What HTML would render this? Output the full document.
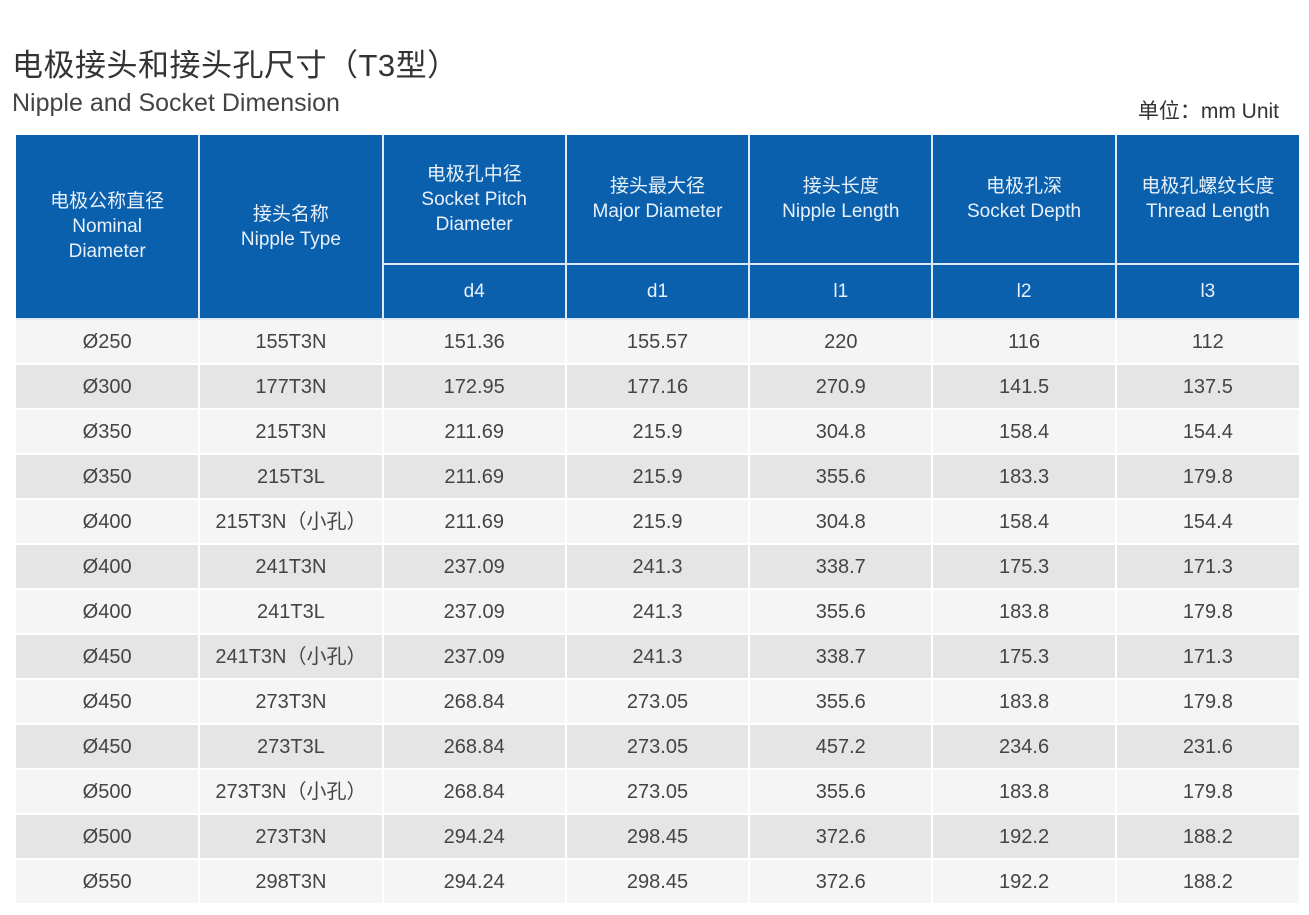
<!DOCTYPE html>
<html><head><meta charset="utf-8"><style>
body{margin:0;width:1309px;height:915px;background:#fff;position:relative;overflow:hidden;font-family:"Liberation Sans","Noto Sans CJK SC",sans-serif;}
.t1{position:absolute;left:12px;top:40px;font-size:31px;color:#333;letter-spacing:0.5px}
.t2{position:absolute;left:12px;top:89px;font-size:25px;color:#444}
.unit{position:absolute;right:30px;top:95px;font-size:21px;color:#333}
table{position:absolute;left:16px;top:135px;width:1283px;border-collapse:collapse;table-layout:fixed}
td{text-align:center;vertical-align:middle;padding:0;border:2px solid #fff;color:#444;font-size:20px;height:43px;line-height:22px}
th{background:#0a60ad;color:#e8f0fa;font-weight:normal;font-size:19px;line-height:25px;border:2px solid #dfe9f5;border-top:none;padding:0}
tr.h1 th{height:128px}
tr.h2 th{height:53px}
table tr:first-child th:first-child{border-left:none}
th:last-child,td:last-child{border-right:none}
td:first-child{border-left:none}
tr.a td{background:#f5f5f5}
tr.b td{background:#e5e5e5}
</style></head><body>
<div class="t1">电极接头和接头孔尺寸（T3型）</div>
<div class="t2">Nipple and Socket Dimension</div>
<div class="unit">单位：mm Unit</div>
<table>
<colgroup><col><col><col><col><col><col><col></colgroup>
<tr class="h1"><th rowspan="2">电极公称直径<br>Nominal<br>Diameter</th><th rowspan="2">接头名称<br>Nipple Type</th><th>电极孔中径<br>Socket Pitch<br>Diameter</th><th>接头最大径<br>Major Diameter</th><th>接头长度<br>Nipple Length</th><th>电极孔深<br>Socket Depth</th><th>电极孔螺纹长度<br>Thread Length</th></tr>
<tr class="h2"><th>d4</th><th>d1</th><th>l1</th><th>l2</th><th>l3</th></tr>
<tr class="a"><td>Ø250</td><td>155T3N</td><td>151.36</td><td>155.57</td><td>220</td><td>116</td><td>112</td></tr>
<tr class="b"><td>Ø300</td><td>177T3N</td><td>172.95</td><td>177.16</td><td>270.9</td><td>141.5</td><td>137.5</td></tr>
<tr class="a"><td>Ø350</td><td>215T3N</td><td>211.69</td><td>215.9</td><td>304.8</td><td>158.4</td><td>154.4</td></tr>
<tr class="b"><td>Ø350</td><td>215T3L</td><td>211.69</td><td>215.9</td><td>355.6</td><td>183.3</td><td>179.8</td></tr>
<tr class="a"><td>Ø400</td><td>215T3N（小孔）</td><td>211.69</td><td>215.9</td><td>304.8</td><td>158.4</td><td>154.4</td></tr>
<tr class="b"><td>Ø400</td><td>241T3N</td><td>237.09</td><td>241.3</td><td>338.7</td><td>175.3</td><td>171.3</td></tr>
<tr class="a"><td>Ø400</td><td>241T3L</td><td>237.09</td><td>241.3</td><td>355.6</td><td>183.8</td><td>179.8</td></tr>
<tr class="b"><td>Ø450</td><td>241T3N（小孔）</td><td>237.09</td><td>241.3</td><td>338.7</td><td>175.3</td><td>171.3</td></tr>
<tr class="a"><td>Ø450</td><td>273T3N</td><td>268.84</td><td>273.05</td><td>355.6</td><td>183.8</td><td>179.8</td></tr>
<tr class="b"><td>Ø450</td><td>273T3L</td><td>268.84</td><td>273.05</td><td>457.2</td><td>234.6</td><td>231.6</td></tr>
<tr class="a"><td>Ø500</td><td>273T3N（小孔）</td><td>268.84</td><td>273.05</td><td>355.6</td><td>183.8</td><td>179.8</td></tr>
<tr class="b"><td>Ø500</td><td>273T3N</td><td>294.24</td><td>298.45</td><td>372.6</td><td>192.2</td><td>188.2</td></tr>
<tr class="a"><td>Ø550</td><td>298T3N</td><td>294.24</td><td>298.45</td><td>372.6</td><td>192.2</td><td>188.2</td></tr>
</table>
</body></html>
